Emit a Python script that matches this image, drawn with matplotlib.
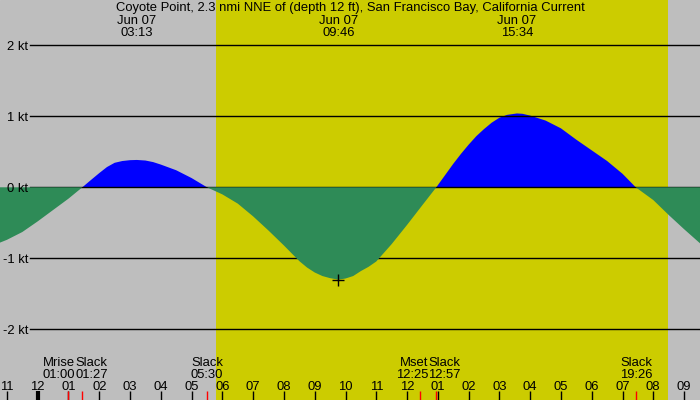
import matplotlib
matplotlib.use('Agg')
import matplotlib.pyplot as plt
import matplotlib.transforms as mtransforms

plt.rcParams['font.family'] = ['Liberation Sans', 'DejaVu Sans']
plt.rcParams['font.size'] = 9.4

# Dados (horas desde 00:00 de Jun 07, corrente em nós)
title = 'Coyote Point, 2.3 nmi NNE of (depth 12 ft), San Francisco Bay, California Current'
hours = [-1.23, -1.0, -0.5, 0.0, 0.5, 1.0, 1.45, 1.75, 2.0, 2.25, 2.5, 2.75, 3.0, 3.22,
         3.5, 3.75, 4.0, 4.5, 5.0, 5.5, 6.0, 6.5, 7.0, 7.5, 8.0, 8.5, 8.75, 9.0, 9.25,
         9.5, 9.77, 10.0, 10.25, 10.5, 10.75, 11.0, 11.5, 12.0, 12.5, 12.95, 13.25,
         13.5, 13.75, 14.0, 14.25, 14.5, 14.75, 15.0, 15.25, 15.57, 15.75, 16.0, 16.5,
         17.0, 17.5, 18.0, 18.5, 19.0, 19.43, 20.0, 20.5, 21.0, 21.52]
knots = [-0.78, -0.74, -0.63, -0.48, -0.32, -0.16, 0.0, 0.11, 0.20, 0.285, 0.345, 0.37,
         0.382, 0.385, 0.377, 0.355, 0.32, 0.24, 0.13, 0.0, -0.10, -0.23, -0.41, -0.61,
         -0.82, -1.04, -1.13, -1.20, -1.25, -1.28, -1.30, -1.285, -1.25, -1.18, -1.12,
         -1.045, -0.80, -0.53, -0.25, 0.0, 0.18, 0.33, 0.47, 0.60, 0.72, 0.82, 0.91, 0.98,
         1.02, 1.04, 1.035, 1.01, 0.94, 0.83, 0.67, 0.52, 0.37, 0.19, 0.0, -0.18, -0.39,
         -0.59, -0.79]

peak_hours = [3.217, 9.767, 15.567]
peak_labels = ['03:13', '09:46', '15:34']
peak_date = 'Jun 07'
mark_hour = 9.767
mark_value = -1.30

event_names = ['Mrise', 'Slack', 'Slack', 'Mset', 'Slack', 'Slack']
event_times = ['01:00', '01:27', '05:30', '12:25', '12:57', '19:26']

sunrise = '05:47'
sunset = '20:28'

grid_levels = [2, 1, 0, -1, -2]
hour_ticks = list(range(-1, 22))


def to_hours(s):
    hh, mm = s.split(':')
    return int(hh) + int(mm) / 60


def ytop(px):
    # posição vertical em fração do eixo, medida em pixels a partir do topo
    return 1 - px / 400


# Configurações do gráfico (~30.78 px por hora, 71 px por nó)
fig = plt.figure(figsize=(7, 4), dpi=100)
ax = fig.add_axes([0, 0, 1, 1])
ax.set_xlim(-1.225, 21.517)
ax.set_ylim(-2.996, 2.638)
ax.axis('off')
ax.add_patch(plt.Rectangle((0, 0), 1, 1, transform=ax.transAxes, color='#bebebe', zorder=0))

ax.axvspan(to_hours(sunrise), to_hours(sunset), color='#cccc00', lw=0, zorder=0.5)

flood = [k > 0 for k in knots]
ebb = [k < 0 for k in knots]
ax.fill_between(hours, knots, 0, where=flood, interpolate=True, color='#0000ff',
                lw=0, zorder=1)
ylab_trans = mtransforms.offset_copy(ax.get_yaxis_transform(), fig=fig, y=-4.5, units='dots')
for v in grid_levels:
    ax.axhline(v, xmin=30 / 700, xmax=1, color='black', lw=1, zorder=2)
    ax.text(28 / 700, v, f'{v} kt', transform=ylab_trans,
            ha='right', va='baseline', zorder=5)
ax.fill_between(hours, knots, 0, where=ebb, interpolate=True, color='#2e8b57',
                lw=0, zorder=3)

ax.plot([mark_hour], [mark_value], marker='+', color='black', ms=8, mew=1, zorder=6)

# Título e horários de máximo
ax.text(0.5, ytop(11), title, transform=ax.transAxes, ha='center', va='baseline')
trans = ax.get_xaxis_transform()
for h, lab in zip(peak_hours, peak_labels):
    ax.text(h, ytop(23.5), peak_date, transform=trans, ha='center', va='baseline')
    ax.text(h, ytop(35.5), lab, transform=trans, ha='center', va='baseline')

# Marcas das horas
for h in hour_ticks:
    lw = 3 if h % 24 == 0 else 1
    ax.plot([h, h], [0, 9 / 400], transform=trans, color='black', lw=lw,
            solid_capstyle='butt', zorder=6)
    lab = (h - 1) % 12 + 1
    ax.text(h, ytop(389.5), f'{lab:02d}', transform=trans, ha='center', va='baseline')

# Eventos (lua, estofo)
ev_h = [to_hours(t) for t in event_times]
for i, (name, t, h) in enumerate(zip(event_names, event_times, ev_h)):
    ax.plot([h, h], [0, 9 / 400], transform=trans, color='red', lw=1,
            solid_capstyle='butt', zorder=7)
    x, ha = h, 'center'
    if i + 1 < len(ev_h) and ev_h[i + 1] - h < 1.2:
        x, ha = (h + ev_h[i + 1]) / 2, 'right'
    elif i > 0 and h - ev_h[i - 1] < 1.2:
        x, ha = (h + ev_h[i - 1]) / 2, 'left'
    ax.text(x, ytop(365.5), name, transform=trans, ha=ha, va='baseline')
    ax.text(x, ytop(377.5), t, transform=trans, ha=ha, va='baseline')

plt.savefig('out.png', dpi=100)
